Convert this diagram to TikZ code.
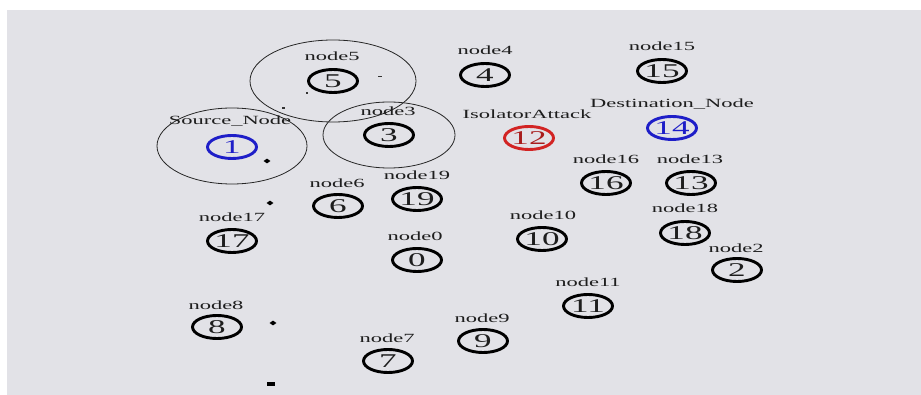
\documentclass[tikz,border=0pt]{standalone}
\usepackage{fontspec}
\usetikzlibrary{shapes.geometric}
\newfontfamily\namfont[FakeStretch=1.8]{Liberation Serif}
\definecolor{bg}{RGB}{226,226,231}
\definecolor{txt}{RGB}{30,30,30}
\definecolor{nblue}{RGB}{30,30,200}
\definecolor{nred}{RGB}{210,35,35}
\tikzset{
  nd/.style={ellipse, draw=black, line width=2.9pt, minimum width=49pt, minimum height=23pt,
    inner sep=0pt, inner xsep=-2pt, font=\namfont\fontsize{19.5}{20}\selectfont, text=txt},
  lb/.style={font=\namfont\fontsize{12.5}{13}\selectfont, text=txt, inner sep=0pt, anchor=base},
  rng/.style={draw=black!85, line width=0.8pt},
  pkt/.style={fill=black, diamond, inner sep=0pt, minimum width=7pt, minimum height=5pt},
  tick/.style={fill=black!80, rectangle, inner sep=0pt, minimum width=4pt, minimum height=1pt},
}
\begin{document}
\begin{tikzpicture}[x=1pt,y=-1pt]
\path[use as bounding box, fill=white] (0,0) rectangle (921,395);
\fill[bg] (7,10) rectangle (921,395);
% range circles
\draw[rng] (333,81) ellipse [x radius=83, y radius=41];
\draw[rng] (389,135) ellipse [x radius=66, y radius=33];
\draw[rng] (232,146) ellipse [x radius=75, y radius=38];
% nodes
\node[nd] (n5) at (333,81) {5};
\node[nd] (n4) at (485,75) {4};
\node[nd] (n15) at (662,71) {15};
\node[nd] (n3) at (389,135) {3};
\node[nd, draw=nblue, text=nblue] (n1) at (232,147) {1};
\node[nd, draw=nred, text=nred!80!black] (n12) at (529,138) {12};
\node[nd, draw=nblue, text=nblue] (n14) at (672,128) {14};
\node[nd] (n16) at (606,183) {16};
\node[nd] (n13) at (691,183) {13};
\node[nd] (n6) at (338,206) {6};
\node[nd] (n19) at (417,199) {19};
\node[nd] (n17) at (232,241) {17};
\node[nd] (n10) at (542,239) {10};
\node[nd] (n18) at (685,233) {18};
\node[nd] (n0) at (417,260) {0};
\node[nd] (n2) at (737,270) {2};
\node[nd] (n11) at (588,306) {11};
\node[nd] (n8) at (217,327) {8};
\node[nd] (n9) at (483,341) {9};
\node[nd] (n7) at (388,361) {7};
% labels
\node[lb] (l5) at (332,61) {node5};
\node[lb] (l4) at (485,55) {node4};
\node[lb] (l15) at (662,51) {node15};
\node[lb] (l3) at (388,116) {node3};
\node[lb] (l1) at (230,125) {Source\_Node};
\node[lb] (l12) at (527,119) {IsolatorAttack};
\node[lb] (l14) at (672,108) {Destination\_Node};
\node[lb] (l16) at (606,164) {node16};
\node[lb] (l13) at (690,164) {node13};
\node[lb] (l6) at (337,188) {node6};
\node[lb] (l19) at (417,180) {node19};
\node[lb] (l17) at (232,222) {node17};
\node[lb] (l10) at (543,220) {node10};
\node[lb] (l18) at (685,213) {node18};
\node[lb] (l0) at (415,241) {node0};
\node[lb] (l2) at (736,253) {node2};
\node[lb] (l11) at (588,287) {node11};
\node[lb] (l8) at (216,309) {node8};
\node[lb] (l9) at (482,323) {node9};
\node[lb] (l7) at (387,342) {node7};
% packets and marks
\node[pkt] (p1) at (267,161) {};
\node[pkt] (p2) at (270,203) {};
\node[pkt] (p3) at (273,323) {};
\node[fill=black, rectangle, inner sep=0pt, minimum width=8pt, minimum height=4pt] (p4) at (271,384) {};
\node[tick] (m1) at (380,77) {};
\node[tick, minimum width=2pt, minimum height=2pt] (m2) at (307,93) {};
\node[tick, minimum width=3pt, minimum height=1.5pt] (m3) at (283,108) {};
\end{tikzpicture}
\end{document}
